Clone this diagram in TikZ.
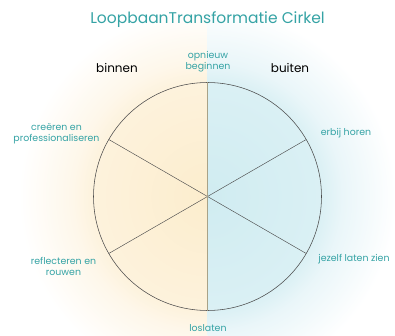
\documentclass[tikz,border=0pt]{standalone}
\usepackage{fontspec}
\setmainfont{Poppins}
\usetikzlibrary{calc}
\definecolor{creamA}{HTML}{FCEDCD}
\definecolor{creamB}{HTML}{FDF2DC}
\definecolor{creamC}{HTML}{FEF7EA}
\definecolor{blueA}{HTML}{D0ECF1}
\definecolor{blueB}{HTML}{DAF0F4}
\definecolor{blueC}{HTML}{EAF6F9}
\definecolor{teal}{HTML}{35A3A5}
\definecolor{divider}{HTML}{A8A288}
\pgfdeclareradialshading{glowL}{\pgfpoint{0bp}{0bp}}{color(0bp)=(creamA); color(113bp)=(creamB); color(135bp)=(creamC); color(188bp)=(white); color(200bp)=(white)}
\pgfdeclareradialshading{glowR}{\pgfpoint{0bp}{0bp}}{color(0bp)=(blueA); color(113bp)=(blueB); color(135bp)=(blueC); color(188bp)=(white); color(200bp)=(white)}
\tikzset{
  lbl/.style={text=teal, font=\fontsize{9.4}{11}\selectfont, align=center, inner sep=0pt},
  side/.style={text=black, font=\fontsize{12}{14}\selectfont, inner sep=0pt},
  spoke/.style={draw=black!70, line width=0.45pt},
  rim/.style={draw=black!70, line width=0.55pt},
}
\begin{document}
\begin{tikzpicture}[x=1pt,y=-1pt]
\useasboundingbox (0,0) rectangle (395,336);
\fill[white] (0,0) rectangle (395,336);
\coordinate (c) at (207.5,196.5);
% glow
\begin{scope}
\clip (0,0) rectangle (207.5,336);
\node[inner sep=0pt, outer sep=0pt] (gl) at (c) {\pgfuseshading{glowL}};
\end{scope}
\begin{scope}
\clip (207.5,0) rectangle (395,336);
\node[inner sep=0pt, outer sep=0pt] (gr) at (c) {\pgfuseshading{glowR}};
\end{scope}
% circle points
\coordinate (ur) at ($(c)+(30:114pt)$);
\coordinate (ul) at ($(c)+(150:114pt)$);
\coordinate (ll) at ($(c)+(210:114pt)$);
\coordinate (lr) at ($(c)+(330:114pt)$);
\coordinate (top) at ($(c)+(90:114pt)$);
\coordinate (bot) at ($(c)+(270:114pt)$);
\draw[rim] (c) circle (114pt);
\draw[spoke] (ul) -- (lr);
\draw[spoke] (ll) -- (ur);
\draw[divider, line width=1.8pt] (top) -- (bot);
% texts
\node[text=teal, font=\fontsize{15.5}{18}\selectfont, inner sep=0pt] (title) at (207.5,20) {LoopbaanTransformatie Cirkel};
\node[lbl] (opn) at (208,62) {opnieuw\\beginnen};
\node[side] (bin) at (117,68) {binnen};
\node[side] (bui) at (290,68) {buiten};
\node[lbl] (cre) at (56.5,134) {creëren en\\professionaliseren};
\node[lbl] (ref) at (63.5,266.5) {reflecteren en\\rouwen};
\node[lbl] (erb) at (346,133) {erbij horen};
\node[lbl] (jez) at (354,259) {jezelf laten zien};
\node[lbl] (los) at (208,328.5) {loslaten};
\end{tikzpicture}
\end{document}
